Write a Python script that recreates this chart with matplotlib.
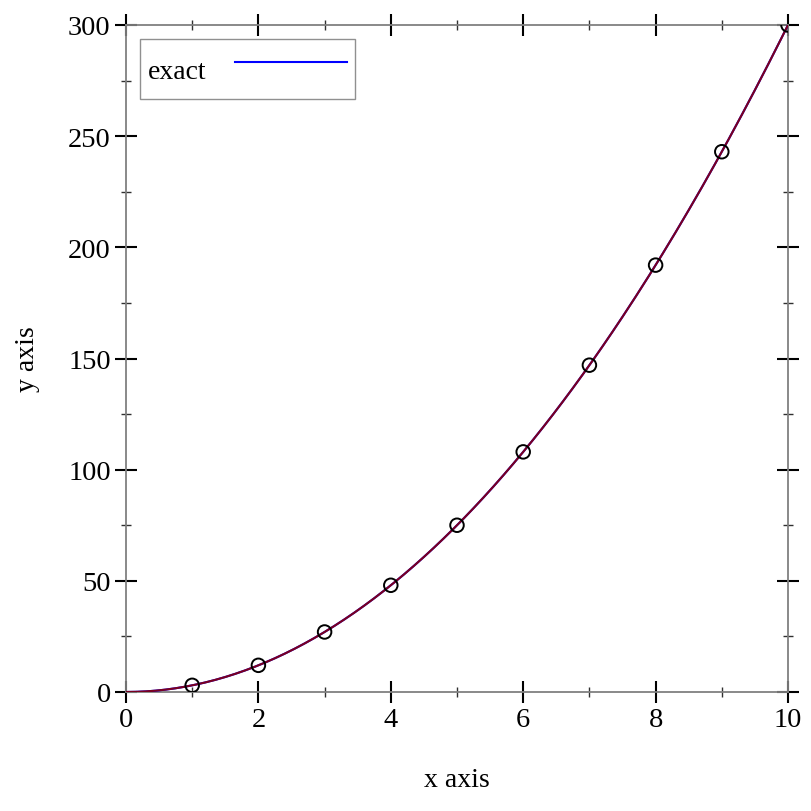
import numpy as np
import matplotlib
matplotlib.use("Agg")
import matplotlib.pyplot as plt
from matplotlib.ticker import MultipleLocator

plt.rcParams['font.family'] = ['Liberation Serif', 'DejaVu Serif']

# data
pts_x = [1, 2, 3, 4, 5, 6, 7, 8, 9, 10]
pts_y = [3, 12, 27, 48, 75, 108, 147, 192, 243, 300]
curve_x = np.linspace(0, 10, 201)
exact_coef = 3.0
fit_coef = 3.0
exact_y = exact_coef * curve_x ** 2
fit_y = fit_coef * curve_x ** 2

fig = plt.figure(figsize=(8.12, 8.12), dpi=100)
ax = fig.add_axes([126/812, 1-693/812, (788-126)/812, (693-26)/812])

ax.plot(curve_x, exact_y, color='blue', lw=1.5, label='exact', zorder=3)
ax.plot(curve_x, fit_y, color='#7a0020', lw=1.5, zorder=4)
ax.scatter(pts_x, pts_y, s=95, facecolors='none', edgecolors='black', linewidths=1.4, zorder=5, clip_on=True)

ax.set_xlim(0, 10)
ax.set_ylim(0, 300)
ax.xaxis.set_major_locator(MultipleLocator(2))
ax.xaxis.set_minor_locator(MultipleLocator(1))
ax.yaxis.set_major_locator(MultipleLocator(50))
ax.yaxis.set_minor_locator(MultipleLocator(25))

for s in ax.spines.values():
    s.set_color('#808080')
    s.set_linewidth(1.3)

ax.tick_params(which='major', direction='inout', length=16, width=1.5, color='black',
               top=True, right=True, labelsize=20.5, pad=3)
ax.tick_params(which='minor', direction='inout', length=7, width=1, color='#303030',
               top=True, right=True)

ax.set_xlabel('x axis', fontsize=20, labelpad=25)
ax.set_ylabel('y axis', fontsize=20, labelpad=20)

leg = ax.legend(loc='upper left', markerfirst=False, fontsize=20, fancybox=False,
                framealpha=1, edgecolor='#909090', handlelength=4.05, handletextpad=1.0,
                handleheight=2.0, borderpad=0.3, borderaxespad=0,
                bbox_to_anchor=((140-126)/662, (693-40)/667))
leg.get_frame().set_linewidth(1.0)

fig.savefig('out.png', dpi=100)
